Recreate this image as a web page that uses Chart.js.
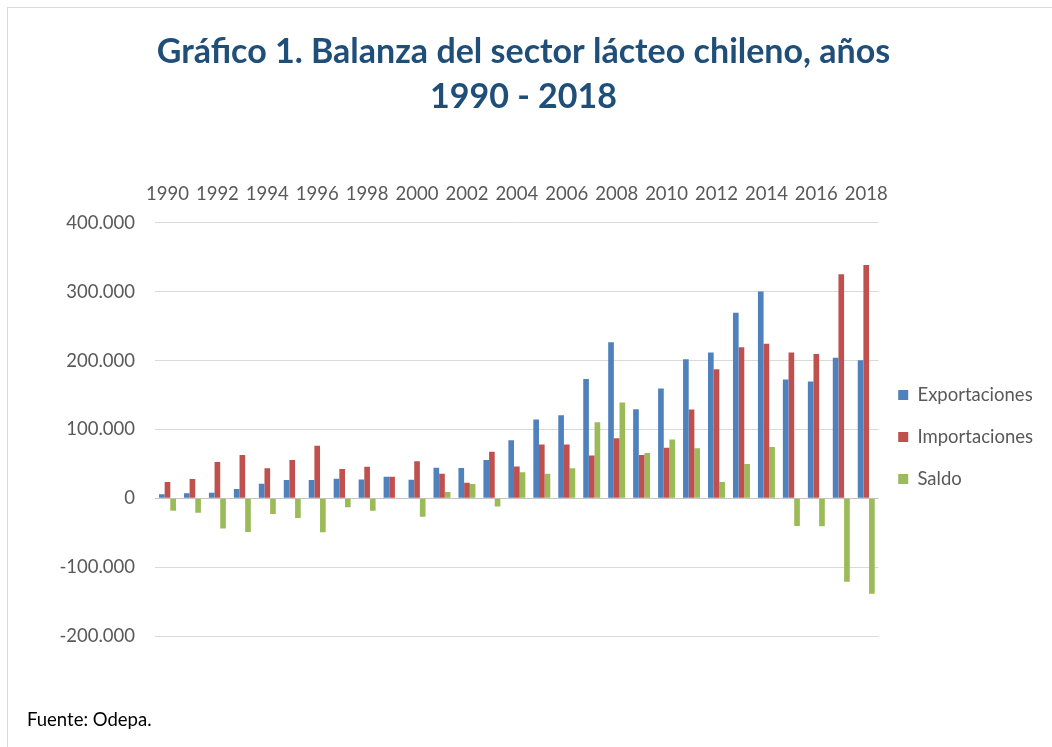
<!DOCTYPE html>
<html>
<head>
<meta charset="utf-8">
<script src="https://cdn.jsdelivr.net/npm/chart.js@4.4.1/dist/chart.umd.min.js"></script>
<style>
    body { margin: 0; width: 1052px; height: 747px; overflow: hidden; background: #fff; position: relative; }
    #wrap { position: absolute; left: 0; top: 0; width: 1072px; height: 747px; }
    .frame-top { position: absolute; left: 7px; top: 7px; width: 1060px; height: 1px; background: #d9d9d9; }
    .frame-left { position: absolute; left: 7px; top: 7px; width: 1px; height: 740px; background: #d9d9d9; }
    #fuente { position: absolute; left: 27px; top: 708px; font: 18.5px Lato, sans-serif; color: #000; }
</style>
</head>
<body>
<div class="frame-top"></div>
<div class="frame-left"></div>
<div id="wrap"><canvas id="balanzaChart" width="1072" height="747"></canvas></div>
<div id="fuente">Fuente: Odepa.</div>
<script>
const years = [];
for (let y = 1990; y <= 2018; y++) years.push(String(y));

// valores (miles)
const exportaciones = [5800, 7200, 8200, 13500, 21300, 26600, 26600, 28500, 27500, 31400, 27000, 44400, 44000, 55600, 84500, 114500, 120800, 173400, 226600, 129500, 159400, 201900, 212000, 269600, 300500, 172500, 169600, 204300, 200500];
const importaciones = [23700, 28000, 52700, 62800, 43500, 55600, 76300, 42500, 45900, 31400, 54000, 35700, 22700, 67600, 46400, 78300, 78300, 62300, 87400, 62800, 73400, 129000, 187400, 219300, 224600, 212000, 209700, 325600, 339100];
const saldo = [-17900, -20800, -44000, -48800, -22700, -28500, -49300, -13000, -17900, 0, -26600, 9200, 20800, -12000, 37700, 35700, 43500, 110600, 139100, 65700, 85500, 72900, 23700, 49800, 74400, -40100, -40600, -121300, -138600];

const yMin = -200000;
const yMax = 400000;
const yStep = 100000;

const textGrey = '#595959';
const tickFont = { family: 'Lato', size: 18.5 };

function formatMiles(v) {
    const s = Math.abs(v).toString().replace(/\B(?=(\d{3})+(?!\d))/g, '.');
    return (v < 0 ? '-' : '') + s;
}

// mueve la leyenda para calzar con el original
const legendShift = {
    id: 'legendShift',
    afterLayout(chart) {
        const lg = chart.legend;
        lg.left -= 4; lg.right -= 4;
        lg.top += 119; lg.bottom += 119;
    }
};

const ctx = document.getElementById('balanzaChart').getContext('2d');

window.balanzaChart = new Chart(ctx, {
    type: 'bar',
    data: {
        labels: years,
        datasets: [
            { label: 'Exportaciones', data: exportaciones, backgroundColor: '#4F81BD' },
            { label: 'Importaciones', data: importaciones, backgroundColor: '#C0504D' },
            { label: 'Saldo', data: saldo, backgroundColor: '#9BBB59' }
        ]
    },
    options: {
        responsive: false,
        animation: false,
        layout: { padding: { left: 0, right: 25, top: 0, bottom: 111 } },
        datasets: { bar: { categoryPercentage: 0.68, barPercentage: 1.0 } },
        plugins: {
            title: {
                display: true,
                text: ['Gráfico 1. Balanza del sector lácteo chileno, años', '1990 - 2018'],
                color: '#1F4E79',
                font: { family: 'Lato', size: 34, weight: 'bold', lineHeight: 1.32 },
                padding: { top: 30, bottom: 45 }
            },
            legend: {
                position: 'right',
                labels: {
                    color: textGrey,
                    font: tickFont,
                    boxWidth: 10,
                    boxHeight: 10,
                    padding: 23.5
                }
            },
            tooltip: { enabled: false }
        },
        scales: {
            x: {
                position: 'top',
                grid: { display: false, drawTicks: false },
                border: { display: false },
                ticks: {
                    autoSkip: false,
                    maxRotation: 0,
                    color: textGrey,
                    font: tickFont,
                    padding: 18,
                    callback: function (val, i) { return i % 2 === 0 ? this.getLabelForValue(val) : ''; }
                }
            },
            y: {
                min: yMin,
                max: yMax,
                grid: {
                    drawTicks: false,
                    color: c => c.tick && c.tick.value === 0 ? '#c4c4c4' : '#d9d9d9'
                },
                border: { display: false },
                ticks: {
                    stepSize: yStep,
                    color: textGrey,
                    font: tickFont,
                    padding: 20,
                    callback: v => formatMiles(v)
                },
                afterFit: s => { s.width = 155; }
            }
        }
    },
    plugins: [legendShift]
});
</script>
</body>
</html>
